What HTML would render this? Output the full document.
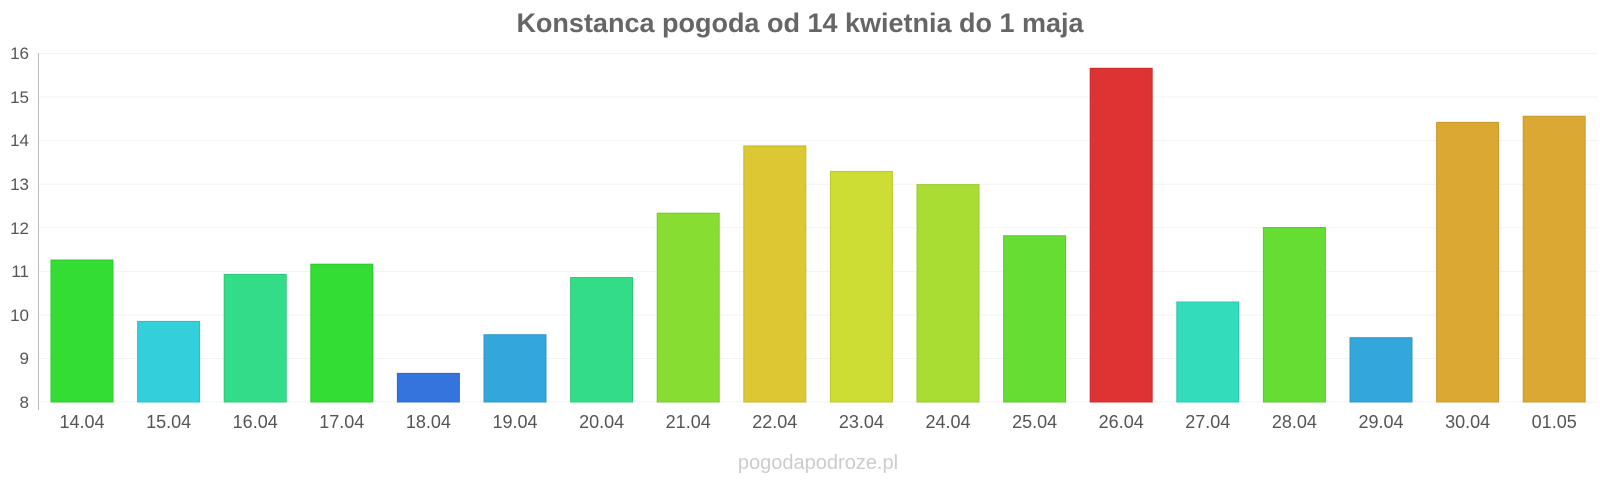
<!DOCTYPE html>
<html><head><meta charset="utf-8"><style>
html,body{margin:0;padding:0;background:#fff;}
svg{display:block;font-family:"Liberation Sans",Arial,sans-serif;}
</style></head><body>
<svg width="1600" height="480" xmlns="http://www.w3.org/2000/svg">
<text x="800" y="32" text-anchor="middle" font-size="27" font-weight="bold" fill="#666">Konstanca pogoda od 14 kwietnia do 1 maja</text>
<g stroke="#f3f3f3" stroke-width="1">
<line x1="38" x2="1598" y1="53.5" y2="53.5"/>
<line x1="38" x2="1598" y1="97" y2="97"/>
<line x1="38" x2="1598" y1="140.6" y2="140.6"/>
<line x1="38" x2="1598" y1="184.2" y2="184.2"/>
<line x1="38" x2="1598" y1="227.8" y2="227.8"/>
<line x1="38" x2="1598" y1="271.4" y2="271.4"/>
<line x1="38" x2="1598" y1="315" y2="315"/>
<line x1="38" x2="1598" y1="358.5" y2="358.5"/>
<line x1="38" x2="1598" y1="402" y2="402"/>
</g>
<g font-size="17" fill="#555" text-anchor="end">
<text x="29" y="59">16</text><text x="29" y="103">15</text><text x="29" y="146">14</text>
<text x="29" y="190">13</text><text x="29" y="234">12</text><text x="29" y="277">11</text>
<text x="29" y="321">10</text><text x="29" y="364">9</text><text x="29" y="408">8</text>
</g>
<g stroke-width="1">
<rect x="51" y="260" width="62" height="142" fill="#33dd33" stroke="#2ec92e"/>
<rect x="137.6" y="321.4" width="62" height="80.6" fill="#33cfdb" stroke="#2ebcc7"/>
<rect x="224.2" y="274.4" width="62" height="127.6" fill="#33dd88" stroke="#2ec97b"/>
<rect x="310.8" y="264.2" width="62" height="137.8" fill="#33dd33" stroke="#2ec92e"/>
<rect x="397.4" y="373.4" width="62" height="28.6" fill="#3374dd" stroke="#2e69c9"/>
<rect x="484" y="334.7" width="62" height="67.3" fill="#33a6db" stroke="#2e97c7"/>
<rect x="570.6" y="277.5" width="62" height="124.5" fill="#33dd88" stroke="#2ec97b"/>
<rect x="657.2" y="213.2" width="62" height="188.8" fill="#88dd33" stroke="#7bc92e"/>
<rect x="743.8" y="145.9" width="62" height="256.1" fill="#dbc833" stroke="#c7b62e"/>
<rect x="830.4" y="171.4" width="62" height="230.6" fill="#cddd33" stroke="#bac92e"/>
<rect x="917" y="184.6" width="62" height="217.4" fill="#aadd33" stroke="#9bc92e"/>
<rect x="1003.6" y="235.7" width="62" height="166.3" fill="#66dd33" stroke="#5dc92e"/>
<rect x="1090.2" y="68.3" width="62" height="333.7" fill="#dd3333" stroke="#c92e2e"/>
<rect x="1176.8" y="302" width="62" height="100" fill="#33dcbb" stroke="#2ec8aa"/>
<rect x="1263.4" y="227.5" width="62" height="174.5" fill="#66dd33" stroke="#5dc92e"/>
<rect x="1350" y="337.7" width="62" height="64.3" fill="#33a6db" stroke="#2e97c7"/>
<rect x="1436.6" y="122.4" width="62" height="279.6" fill="#dba933" stroke="#c7992e"/>
<rect x="1523.2" y="116.3" width="62" height="285.7" fill="#dba933" stroke="#c7992e"/>
</g>
<line x1="38.5" x2="38.5" y1="53" y2="410" stroke="#bbb"/>
<g font-size="18" fill="#555" text-anchor="middle">
<text x="82" y="428">14.04</text><text x="168.6" y="428">15.04</text><text x="255.2" y="428">16.04</text>
<text x="341.8" y="428">17.04</text><text x="428.4" y="428">18.04</text><text x="515" y="428">19.04</text>
<text x="601.6" y="428">20.04</text><text x="688.2" y="428">21.04</text><text x="774.8" y="428">22.04</text>
<text x="861.4" y="428">23.04</text><text x="948" y="428">24.04</text><text x="1034.6" y="428">25.04</text>
<text x="1121.2" y="428">26.04</text><text x="1207.8" y="428">27.04</text><text x="1294.4" y="428">28.04</text>
<text x="1381" y="428">29.04</text><text x="1467.6" y="428">30.04</text><text x="1554.2" y="428">01.05</text>
</g>
<text x="818" y="469" text-anchor="middle" font-size="20" fill="#ccc">pogodapodroze.pl</text>
</svg>
</body></html>
